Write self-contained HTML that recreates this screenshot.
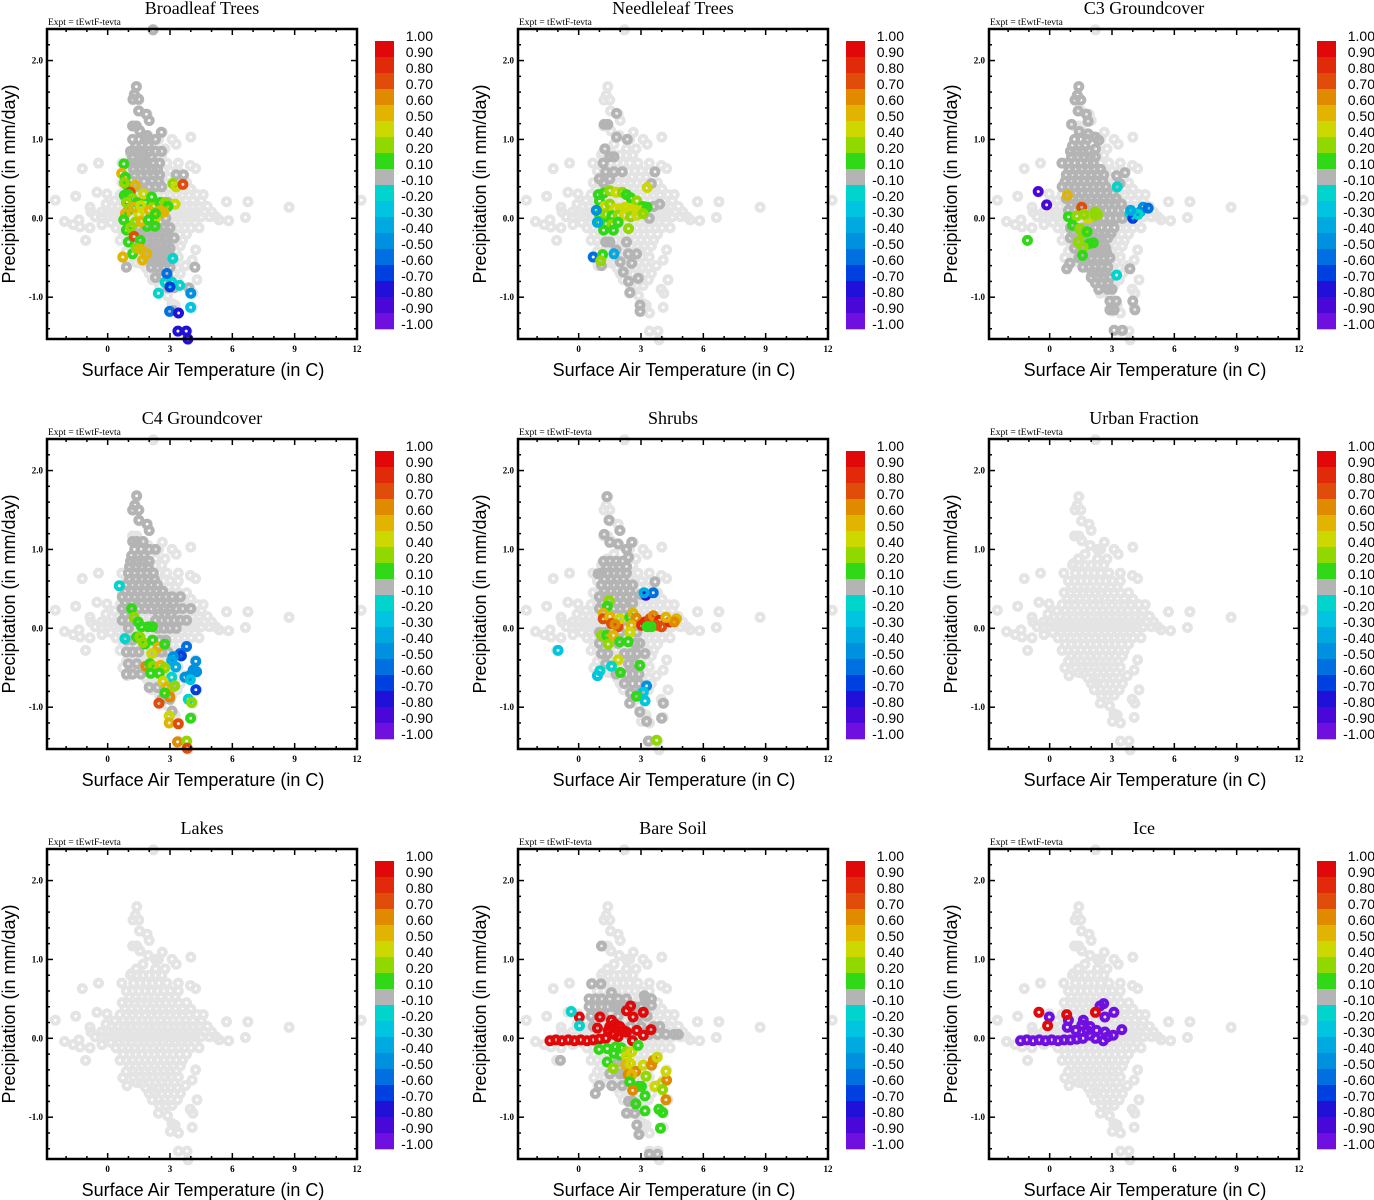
<!DOCTYPE html>
<html><head><meta charset="utf-8"><style>
html,body{margin:0;padding:0;background:#fff;}
svg{display:block;}
</style></head><body>
<svg id="chart" xmlns="http://www.w3.org/2000/svg" width="1374" height="1200" viewBox="0 0 1374 1200"></svg>
<script>
// ---- data ----
const panelTitles = ["Broadleaf Trees","Needleleaf Trees","C3 Groundcover","C4 Groundcover","Shrubs","Urban Fraction","Lakes","Bare Soil","Ice"];
const xTickValues = [0,3,6,9,12];
const yTickValues = [2,1,0,-1];
const yTickLabels = ["2.0","1.0","0.0","-1.0"];
const colorBounds = [1.0,0.9,0.8,0.7,0.6,0.5,0.4,0.2,0.1,-0.1,-0.2,-0.3,-0.4,-0.5,-0.6,-0.7,-0.8,-0.9,-1.0];
const colorLabels = ["1.00","0.90","0.80","0.70","0.60","0.50","0.40","0.20","0.10","-0.10","-0.20","-0.30","-0.40","-0.50","-0.60","-0.70","-0.80","-0.90","-1.00"];
const binColors = ["#e00808","#e02a0a","#e04c0a","#e08a00","#e0b400","#ccd800","#90d800","#30d818","#b4b4b4","#00d4cc","#00c4e0","#00aae0","#0090e0","#0070e0","#0040e0","#2010d8","#4a08d8","#7010e0"];

// base cloud (all grid cells), rows: [precip, temp, temp, ...]
const baseRows = [
[1.67,1.4],[1.56,1.33],[1.5,1.22,1.5],[1.36,1.53],[1.32,1.9],[1.24,2.0],[1.17,1.2,1.4],[1.11,1.55],[1.05,1.95],[1.09,2.63],[1.0,2.3,2.45,3.1],[0.94,3.3,1.7],[1.03,4.0],[0.88,1.38,2.3,2.76],[0.82,1.14],[0.7,-0.44,0.68,3.4],[0.63,-1.22,4.23],[0.67,3.98],[0.33,-0.52],[0.31,-0.03],[0.28,-1.54],[0.18,-0.08],[0.23,-2.52,12.2],[0.14,-0.85,8.73],[0.08,-0.8],[-0.04,-2.08],[-0.08,-1.66,-0.28],[-0.02,-1.38,5.37],[-0.11,-1.33],[-0.12,-0.85],[-0.28,-1.06],[0.21,5.72,6.75],[0.01,6.63],[-0.03,5.82],[-0.5,0.73],[-0.6,0.93,3.74],[-0.57,1.63],[-0.68,2.24],[-0.95,2.44,4.1],[-0.98,2.88],[-1.08,3.09],[-1.1,3.25],[-1.18,3.02],[-1.2,3.41],[-1.13,4.07],[-0.9,3.97],[-0.78,4.3],[-0.4,4.23],[-0.53,4.07],[-1.43,3.41,3.82],[-1.54,3.87],[2.39,2.2],
[0.8,1.1,1.4,1.7,2.0,2.3,2.6],
[0.7,1.25,1.55,1.85,2.15,2.45,2.85],
[0.6,0.9,1.2,1.5,1.8,2.1,2.4,2.7,3.0,3.4],
[0.52,1.05,1.35,1.65,1.95,2.25,2.55,2.95,3.25],
[0.45,0.7,1.0,1.3,1.6,1.9,2.2,2.5,2.8,3.1,3.4,3.8],
[0.37,0.85,1.15,1.45,1.75,2.05,2.35,2.65,2.95,3.25,3.6,4.0],
[0.3,0.6,0.9,1.2,1.5,1.8,2.1,2.4,2.7,3.0,3.3,3.6,3.9,4.3,4.6],
[0.22,0.35,0.75,1.05,1.35,1.65,1.95,2.25,2.55,2.85,3.15,3.45,3.75,4.1,4.5],
[0.15,0.2,0.5,0.8,1.1,1.4,1.7,2.0,2.3,2.6,2.9,3.2,3.5,3.8,4.1,4.4,4.8],
[0.08,-0.3,0.05,0.35,0.65,0.95,1.25,1.55,1.85,2.15,2.45,2.75,3.05,3.35,3.65,3.95,4.3,4.65,5.0],
[0.02,-0.6,-0.3,0,0.3,0.6,0.9,1.2,1.5,1.8,2.1,2.4,2.7,3.0,3.3,3.6,3.9,4.2,4.5,4.9,5.2],
[-0.05,0.15,0.55,0.85,1.15,1.45,1.75,2.05,2.35,2.65,2.95,3.25,3.55,3.85,4.2],
[-0.12,0.4,0.7,1.0,1.3,1.6,1.9,2.2,2.5,2.8,3.1,3.4,3.7,4.0,4.4],
[-0.2,0.75,1.05,1.35,1.65,1.95,2.25,2.55,2.85,3.15,3.45,3.8],
[-0.28,0.6,0.9,1.2,1.5,1.8,2.1,2.4,2.7,3.0,3.3,3.6],
[-0.35,1.05,1.35,1.65,1.95,2.25,2.55,2.85,3.15,3.5],
[-0.42,0.9,1.2,1.5,1.8,2.1,2.4,2.7,3.0,3.3],
[-0.49,1.25,1.55,1.85,2.15,2.45,2.75,3.05,3.4],
[-0.56,1.4,1.7,2.0,2.3,2.6,2.9,3.2],
[-0.63,1.85,2.15,2.45,2.75,3.05,3.35],
[-0.7,2.0,2.3,2.6,2.9,3.2,3.5],
[-0.78,2.15,2.45,2.75,3.05,3.35],
[-0.85,2.5,2.8,3.1]
];

// near-zero correlation points (dark gray) per panel, rows: [precip, temp...]
const darkRows1 = [[2.39,2.18],[1.67,1.38],[1.57,1.28],[1.51,1.22,1.49],[1.36,1.49],[1.32,1.86],[1.24,2.0],[1.17,1.2,1.38],[1.11,1.54],[1.05,1.89],[1.09,2.58],
[1.0,1.2,1.5,1.8,2.3],[0.92,1.35,1.65,1.95],[0.85,1.1,1.3,1.5,1.7,2.0,2.3,2.6],[0.78,1.2,1.6,1.8,2.1],[0.7,1.1,1.3,1.5,1.7,1.9,2.2,2.5],[0.62,1.25,1.55,1.85,2.15,2.4],[0.55,1.3,1.6,1.9,2.2,2.5,3.3,3.65],[0.47,1.75,2.15,2.45],[0.4,1.5,2.0,2.3,2.6],[0.2,2.6,2.9],[0.0,2.8],
[-0.12,1.5,1.8,2.1,2.4,2.7,3.0],[-0.18,1.65,1.95,2.25,2.55,2.85],[-0.25,1.6,1.9,2.2,2.5,2.8,3.2],[-0.32,1.95,2.25,2.55,2.85],[-0.38,1.8,2.1,2.4,2.7,3.0],[-0.44,2.05,2.35,2.65,2.95],[-0.5,1.9,2.2,2.5,2.8,3.1],[-0.56,2.25,2.55,2.85],[-0.62,0.9,2.1,2.4,2.7,3.0,4.2],[-0.75,2.3,2.6,2.9],[-0.88,2.9,3.2,3.9],[-1.17,3.15]];
const darkRows2 = [[1.33,1.82],[1.19,1.23,1.4],[1.03,1.82],[1.0,2.34],[0.88,1.26],[0.78,1.5,1.7],[0.7,1.18],[0.59,1.3,1.7,2.1,3.67],[0.5,1.0,1.5],[0.45,1.2],[0.44,3.5],[0.18,3.9],[0.15,3.6],[0.0,3.4],
[-0.3,1.3,1.5,2.3],[-0.4,1.8],[-0.45,2.39,2.79],[-0.55,2.0],[-0.57,2.55],[-0.6,1.1],[-0.68,2.15],[-0.76,2.87],[-0.8,2.4],[-0.94,2.47],[-1.1,2.95],[-1.18,2.95]];
const darkRows3 = [[1.67,1.4],[1.56,1.33],[1.5,1.22,1.5],[1.36,1.37],[1.32,1.77],[1.23,1.85],[1.19,1.05],[1.1,1.42],[1.07,1.85],[1.03,2.2],[0.99,2.36],[0.88,2.2],[0.78,2.2],[0.7,0.59,1.85],[0.54,3.22],[0.58,3.62],[0.44,3.38],
[1.0,1.2,1.5,1.8],[0.92,1.1,1.4,1.7],[0.85,1.0,1.3,1.6,1.9],[0.78,1.05,1.35,1.65,1.95],[0.7,0.9,1.2,1.5,1.8,2.1],[0.62,0.95,1.25,1.55,1.85,2.15,2.45],[0.55,0.8,1.1,1.4,1.7,2.0,2.3,2.6],[0.47,0.75,1.05,1.35,1.65,1.95,2.25,2.55],[0.4,0.6,0.9,1.2,1.5,1.8,2.1,2.4,2.7],[0.32,0.95,1.25,1.55,1.85,2.15,2.45,2.75,3.05],[0.25,0.8,1.1,1.4,1.7,2.0,2.3,2.6,2.9,3.2],[0.18,1.05,1.35,1.65,1.95,2.25,2.55,2.85,3.15,3.45],[0.1,0.9,1.2,1.5,1.8,2.1,2.4,2.7,3.0,3.3,3.6],[0.0,2.0,2.3,2.6,2.9,3.2,3.5],
[-0.12,1.0,1.3,1.6,1.9,2.2,2.5,2.8,3.1],[-0.19,1.15,1.45,1.75,2.05,2.35,2.65,2.95],[-0.25,1.0,1.3,1.6,1.9,2.2,2.5,2.8],[-0.32,1.35,1.65,1.95,2.25,2.55],[-0.38,1.2,1.5,1.8,2.1,2.4,2.7],[-0.44,1.55,1.85,2.15,2.45,2.75],[-0.5,1.4,1.7,2.0,2.3,2.6,2.9],[-0.57,0.97],[-0.64,0.82,3.86],[-0.62,1.6,1.9,2.2,2.5,2.8],[-0.68,2.05,2.35,2.65],[-0.75,2.0,2.3,2.6,2.9],[-0.82,2.2,2.5,2.8],[-0.9,2.36,2.8,3.0],[-1.05,2.9,3.2,4.0],[-1.16,2.9,3.1,4.1],[-1.42,3.1,3.5]];
const darkRows4 = [[1.68,1.39],[1.56,1.3],[1.5,1.2,1.5],[1.37,1.5],[1.32,1.9],[1.24,2.0],[1.1,1.2,1.4,1.7],[1.0,1.3,1.6,2.0,2.3],[0.92,1.15,1.45,1.75],[0.85,1.1,1.4,1.7,2.0],[0.78,1.05,1.35,1.65,1.95],[0.7,1.0,1.3,1.6,1.9,2.2],[0.62,1.05,1.35,1.65,1.95,2.25],[0.55,0.9,1.2,1.5,1.8,2.1,2.4],[0.47,0.85,1.15,1.45,1.75,2.05,2.35,2.65],[0.4,0.7,1.0,1.3,1.6,1.9,2.2,2.5,2.8,3.1,3.5],[0.32,0.85,1.15,1.65,1.95,2.25,2.55,2.85,3.15],[0.25,0.7,1.0,1.5,1.8,2.1,2.4,2.7,3.0,3.3,3.6,4.0],[0.18,0.85,2.45,2.75,3.05],[0.1,0.7,1.0,1.3,2.3,2.6,2.9,3.2,3.5,3.8],[0.0,1.0,2.4,2.7,3.0,3.3],[-0.15,0.9,1.2,2.5,2.8],[-0.3,0.9,1.2,1.5,2.3,2.6,2.9],[-0.45,1.0,1.4],[-0.58,0.9,1.2,1.6],[-0.75,2.0,2.4,3.1],[-0.9,2.6,3.0],[-1.05,3.1]];
const darkRows5 = [[1.67,1.36],[1.37,1.46],[1.24,1.98],[1.19,1.23],[1.09,1.5,2.55],[1.07,1.9],[1.0,2.3],[0.9,2.4],[0.78,2.3],[0.69,0.93],[0.59,3.67],[0.43,3.0],
[0.85,1.2,1.5,1.8,2.1],[0.78,1.35,1.65,1.95],[0.7,1.1,1.4,1.7,2.0,2.3],[0.62,1.25,1.55,1.85,2.15],[0.55,1.1,1.4,1.7,2.0,2.3,2.6],[0.47,1.25,1.55,1.85,2.15,2.45],[0.4,1.0,1.3,1.7,2.0,2.3,2.6],[0.32,1.15,1.85,2.15,2.6],[0.25,1.0,1.7,2.0,2.3],[0.1,2.2],[-0.05,1.0,1.3,2.0,2.8],[-0.19,1.0,1.9,2.7,2.94],[-0.32,1.1,1.4,2.2,2.5,2.8,3.19],[-0.45,1.3,2.4,2.7],[-0.58,1.8,2.3,2.6,2.9],[-0.7,2.2,2.6,2.9],[-0.82,2.5,2.9],[-0.95,2.46,4.07],[-1.06,2.94],[-1.14,3.99],[-1.18,3.27],[-1.43,3.35]];
const darkRows6 = [];
const darkRows7 = [];
const darkRows8 = [[1.17,1.1],[0.69,0.62,1.07],[0.58,1.58],[0.54,3.16],[0.42,1.82,3.5],[0.5,0.5,0.8,1.1,1.5,1.9,2.3,3.2,3.5],[0.4,0.5,0.8,1.1,1.4,1.7,2.0,2.7,3.0],[0.28,0.6,1.2,1.9,2.9,3.3],[0.15,0.7,2.5,3.0,3.6,3.9],[0.05,2.4,3.4,3.8,4.2,4.6,4.8],[-0.28,-0.88],[-0.3,1.9,2.1],[-0.45,1.5,2.0,2.2],[-0.6,1.0,1.6,2.1],[-0.7,0.8],[-0.8,2.4,2.6],[-0.95,2.3,2.7],[-1.1,2.8],[-1.22,2.9],[-1.47,3.4,3.8]];
const darkRows9 = [];

// colored points per panel: [temp, precip, correlation]
const colored1 = [[0.78,0.69,0.1],[0.67,0.57,0.5],[0.85,0.52,0.1],[0.93,0.42,0.1],[0.8,0.45,0.2],[1.33,0.42,0.5],[1.09,0.33,0.7],[0.93,0.21,0.7],[0.8,0.29,0.1],[1.0,0.3,0.1],[1.2,0.25,0.2],[1.4,0.2,0.1],[1.8,0.2,0.1],[2.2,0.15,0.2],[2.4,0.05,0.1],[1.0,0.1,0.1],[1.1,-0.1,0.1],[0.9,0.2,0.2],[1.5,0.05,0.4],[1.9,-0.1,0.1],[2.3,0.0,0.4],[0.9,-0.15,0.1],[1.0,-0.3,0.1],[1.2,-0.45,0.1],
[1.73,0.31,0.4],[2.12,0.27,0.1],[2.53,0.2,0.1],[2.77,0.2,0.2],[3.25,0.18,0.4],[2.9,0.15,0.1],[1.25,0.14,0.5],[1.6,0.16,0.4],[2.0,0.1,0.5],[2.53,0.1,0.5],[2.7,0.08,0.5],[2.3,0.06,0.1],[0.85,0.06,0.5],[0.77,-0.02,0.1],[1.33,-0.05,0.2],[1.6,-0.04,0.5],[1.97,-0.02,0.1],[2.28,-0.1,0.1],[1.1,-0.12,0.2],
[1.27,-0.23,0.7],[1.56,-0.28,0.1],[1.37,-0.38,0.2],[1.56,-0.39,0.5],[1.88,-0.45,0.5],[1.68,-0.53,0.5],[0.73,-0.49,0.5],[3.14,0.44,0.2],[3.3,0.4,0.4],[3.62,0.43,0.7],
[3.14,-0.51,-0.2],[2.77,-0.81,-0.2],[3.09,-0.81,-0.2],[3.46,-0.85,-0.2],[3.0,-0.87,-0.7],[2.44,-0.95,-0.2],[4.0,-0.95,-0.5],[3.99,-1.13,-0.3],[2.98,-1.18,-0.6],[3.41,-1.2,-0.8],[3.38,-1.43,-0.8],[3.78,-1.43,-0.8],[3.86,-1.53,-0.8],[2.85,-0.7,-0.6]];
const colored2 = [[0.95,0.3,0.1],[1.2,0.32,0.1],[1.5,0.35,0.2],[1.8,0.33,0.4],[2.1,0.33,0.2],[2.3,0.3,0.1],[2.5,0.26,0.1],[2.8,0.22,0.2],[3.1,0.15,0.1],[1.0,0.22,0.1],[1.25,0.15,0.4],[1.5,0.18,0.2],[1.75,0.12,0.4],[2.0,0.12,0.4],[2.25,0.14,0.4],[2.5,0.12,0.4],[2.75,0.1,0.4],[3.0,0.1,0.4],[3.3,0.14,0.1],[1.0,0.05,0.1],[1.3,0.05,0.2],[1.6,0.03,0.1],[1.9,0.04,0.2],[2.2,0.04,0.4],[2.5,0.02,0.2],[2.8,0.04,0.4],[3.1,0.06,0.2],[1.0,-0.05,0.1],[1.3,-0.07,0.1],[1.6,-0.08,0.2],[1.9,-0.05,0.1],[1.2,-0.15,0.1],[1.67,-0.15,0.1],[2.4,-0.13,0.2],[3.3,0.39,0.4],[0.7,-0.49,-0.6],[1.15,-0.46,0.1],[1.06,-0.54,0.2],[0.85,0.1,-0.5],[0.9,-0.05,-0.4],[1.7,-0.45,-0.4]];
const colored3 = [[-0.55,0.34,-0.9],[-0.15,0.17,-0.9],[-1.07,-0.28,0.1],[0.85,0.29,0.5],[1.54,0.14,0.7],[0.9,0.02,0.1],[1.3,0.03,0.2],[1.85,0.0,0.4],[2.2,0.04,0.2],[2.2,0.08,0.2],[1.1,-0.09,0.1],[1.45,-0.13,0.2],[1.61,-0.19,0.2],[1.8,-0.17,0.1],[1.38,-0.3,0.2],[1.9,-0.32,0.1],[2.1,-0.31,0.1],[1.61,-0.37,0.2],[1.58,-0.47,0.1],[1.65,0.05,0.2],[2.3,0.05,0.2],
[3.25,0.4,-0.2],[3.86,0.06,-0.2],[4.1,0.04,-0.3],[4.35,0.08,-0.4],[4.5,0.14,-0.5],[4.74,0.13,-0.6],[4.0,0.0,-0.7],[4.25,0.05,-0.2],[3.9,0.1,-0.4],[3.22,-0.72,-0.2]];
const colored4 = [[0.56,0.54,-0.2],[1.15,0.25,0.1],[1.27,0.14,0.2],[1.47,0.08,0.1],[1.63,0.02,0.1],[1.95,0.02,0.1],[2.16,0.02,0.1],[0.83,-0.13,-0.2],[1.39,-0.11,0.1],[1.55,-0.11,0.2],[1.79,-0.2,0.1],[1.7,-0.18,0.2],[2.16,-0.15,0.1],[2.43,-0.24,0.5],[2.75,-0.2,0.1],[2.12,-0.32,0.4],[3.48,-0.32,-0.6],[3.55,-0.35,-0.7],[3.8,-0.23,-0.6],[3.16,-0.36,-0.5],[3.08,-0.41,-0.4],[4.24,-0.42,-0.5],[1.84,-0.48,0.6],[2.03,-0.45,0.1],[2.19,-0.48,0.2],[2.55,-0.47,0.5],[2.75,-0.5,0.2],[2.07,-0.57,0.1],[2.48,-0.57,0.1],[3.28,-0.49,-0.4],[3.08,-0.62,-0.2],[3.72,-0.62,-0.5],[3.96,-0.6,-0.5],[4.12,-0.53,-0.5],[4.28,-0.55,-0.5],[3.98,-0.65,-0.3],[2.67,-0.67,0.4],[2.83,-0.75,0.5],[3.23,-0.73,0.2],[2.99,-0.87,0.6],[2.75,-0.82,0.1],[4.24,-0.78,-0.7],[3.88,-0.9,-0.2],[4.04,-0.94,0.2],[2.47,-0.95,0.7],[2.96,-1.11,0.4],[2.96,-1.2,0.5],[3.4,-1.21,0.7],[3.99,-1.14,0.1],[3.36,-1.44,0.6],[3.8,-1.43,0.2],[3.83,-1.52,0.7]];
const colored5 = [[1.47,0.35,0.2],[1.38,0.28,0.1],[1.18,0.19,0.5],[1.18,0.12,0.7],[1.5,0.15,0.5],[1.58,0.06,0.7],[1.9,0.02,0.7],[1.98,0.12,0.4],[1.75,0.05,0.6],[2.46,0.14,0.1],[2.62,0.19,0.5],[2.78,0.13,0.6],[2.54,0.04,0.5],[2.46,-0.05,0.4],[3.03,0.04,0.8],[3.19,0.08,0.8],[3.43,0.12,0.7],[3.59,0.16,0.6],[3.88,0.1,0.8],[3.75,0.04,0.7],[3.5,0.02,0.1],[3.99,0.02,0.7],[4.39,0.08,0.8],[4.71,0.12,0.5],[4.6,0.08,0.6],[4.2,0.14,0.5],[3.3,0.02,0.1],[1.1,-0.09,0.2],[1.35,-0.09,0.1],[1.66,-0.09,0.5],[1.42,-0.2,0.2],[1.98,-0.17,0.1],[2.38,-0.17,0.1],[1.9,-0.4,0.4],[1.58,-0.48,-0.2],[1.02,-0.54,-0.2],[0.9,-0.6,-0.3],[2.01,-0.56,0.1],[2.94,-0.47,0.1],[-0.99,-0.28,-0.3],[3.27,-0.73,-0.5],[3.11,-0.81,-0.3],[3.19,-0.92,-0.3],[2.78,-0.86,0.1],[3.23,0.42,-0.8],[3.59,0.45,-0.6],[3.15,0.45,-0.4],[3.75,-1.42,0.3]];
const colored6 = [];
const colored7 = [];
const colored8 = [[-1.38,-0.03,0.95],[-1.1,-0.02,0.95],[-0.8,-0.03,0.95],[-0.5,-0.02,0.95],[-0.2,-0.03,0.95],[0.1,-0.02,0.95],[0.4,-0.03,0.95],[0.7,-0.02,0.95],[1.0,-0.01,0.95],[1.3,0.0,0.95],[1.02,0.27,0.95],[0.9,0.13,0.95],[0.03,0.27,0.95],[1.58,0.23,0.95],[1.75,0.18,0.95],[1.42,0.1,0.95],[1.98,0.15,0.95],[2.15,0.1,0.95],[2.3,0.35,0.95],[2.5,0.41,0.95],[2.62,0.27,0.95],[3.11,0.33,0.95],[3.48,0.11,0.95],[3.11,0.04,0.95],[2.59,-0.03,0.95],[1.7,0.05,0.95],[1.9,0.02,0.95],[2.3,0.08,0.95],[2.8,0.1,0.95],[1.5,0.15,0.95],
[-0.36,0.34,-0.2],[0.04,0.16,-0.2],
[0.98,-0.14,0.1],[1.38,-0.13,0.1],[1.78,-0.11,0.1],[2.05,-0.12,0.1],[1.7,-0.19,0.1],[2.0,-0.21,0.1],[2.3,-0.17,0.2],[2.55,-0.17,0.4],[2.86,-0.09,0.1],[1.38,-0.3,0.1],[1.66,-0.38,0.2],[2.3,-0.23,0.4],[2.27,-0.34,0.5],[2.5,-0.32,0.4],[2.38,-0.46,0.6],[2.75,-0.42,0.6],[3.11,-0.34,0.4],[3.24,-0.48,0.2],[3.51,-0.34,0.6],[3.59,-0.28,0.6],[3.78,-0.24,0.4],[2.55,-0.46,0.5],[2.46,-0.55,0.1],[2.86,-0.61,0.1],[3.02,-0.61,0.1],[3.67,-0.61,0.4],[3.99,-0.57,0.4],[4.23,-0.53,0.6],[4.2,-0.42,0.4],[4.04,-0.65,0.2],[2.6,-0.66,0.6],[3.19,-0.73,0.1],[2.75,-0.83,0.1],[3.19,-0.92,0.1],[3.86,-0.9,0.1],[4.04,-0.94,0.1],[4.2,-0.78,0.6],[3.94,-1.14,0.1]];
const colored9 = [[-1.4,-0.03,-0.95],[-1.1,-0.02,-0.95],[-0.8,-0.03,-0.95],[-0.5,-0.02,-0.95],[-0.2,-0.03,-0.95],[0.1,-0.02,-0.95],[0.4,-0.03,-0.95],[0.7,-0.02,-0.95],[1.0,-0.02,-0.95],[1.3,-0.01,-0.95],[1.6,0.0,-0.95],[1.94,0.04,-0.95],[2.2,0.0,-0.95],[2.58,-0.03,-0.95],[1.62,0.23,-0.95],[1.55,0.17,-0.95],[1.26,0.1,-0.95],[1.94,0.15,-0.95],[2.26,0.1,-0.95],[2.66,0.08,-0.95],[3.06,0.04,-0.95],[3.47,0.11,-0.95],[2.8,0.02,-0.95],[2.42,0.41,-0.95],[2.6,0.44,-0.95],[2.66,0.27,-0.95],[3.09,0.33,-0.95],[0.9,0.23,-0.95],[0.85,0.14,-0.95],[-0.02,0.27,-0.95],[1.8,0.1,-0.95],
[-0.52,0.33,0.95],[-0.1,0.16,0.95],[0.82,0.3,0.95],[2.2,0.33,0.95]];

const darkSets = [darkRows1,darkRows2,darkRows3,darkRows4,darkRows5,darkRows6,darkRows7,darkRows8,darkRows9];
const coloredSets = [colored1,colored2,colored3,colored4,colored5,colored6,colored7,colored8,colored9];

// ---- drawing ----
const NS = "http://www.w3.org/2000/svg";
const svg = document.getElementById("chart");
function mk(tag, attrs, parent){const e=document.createElementNS(NS,tag);for(const k in attrs)e.setAttribute(k,attrs[k]);(parent||svg).appendChild(e);return e;}
function colorFor(v){
  for(let k=0;k<binColors.length;k++){ if(v<=colorBounds[k] && v>=colorBounds[k+1]) return binColors[k]; }
  return v>0?binColors[0]:binColors[binColors.length-1];
}
const T0=-2.92, T1=12, P0=-1.53, P1=2.4;
const L=47, R=357, TOP=29, BOT=339;

for(let i=0;i<9;i++){
  const ox=(i%3)*471, oy=Math.floor(i/3)*410;
  const X=t=>ox+L+(t-T0)/(T1-T0)*(R-L);
  const Y=p=>oy+BOT-(p-P0)/(P1-P0)*(BOT-TOP);
  const g=mk("g",{});
  
  

  const title=mk("text",{x:ox+202,y:oy+14,"text-anchor":"middle","font-family":"Liberation Serif, serif","font-size":"18"},g);
  title.textContent=panelTitles[i];
  
  

  const ex=mk("text",{x:ox+48,y:oy+25,"font-family":"Liberation Serif, serif","font-size":"9.5"},g);
  ex.textContent="Expt = tEwtF-tevta";
  
  

  // points
  const pts=mk("g",{},g);
  
  
  const dot=(t,p,col)=>{const c=mk("circle",{cx:X(t).toFixed(1),cy:Y(p).toFixed(1),r:3.5,fill:"none",stroke:col,"stroke-width":4},pts);
    
    };
  baseRows.forEach(r=>{for(let k=1;k<r.length;k++)dot(r[k],r[0],"#e4e4e4");});
  darkSets[i].forEach(r=>{for(let k=1;k<r.length;k++)dot(r[k],r[0],"#b4b4b4");});
  coloredSets[i].forEach(d=>dot(d[0],d[1],colorFor(d[2])));

  // frame
  const fr=mk("rect",{x:ox+L,y:oy+TOP,width:R-L,height:BOT-TOP,fill:"none",stroke:"#000","stroke-width":2.5},g);
  
  

  // ticks
  for(let t=-2;t<=11;t++){
    const major=xTickValues.includes(t), len=major?6:3;
    mk("line",{x1:X(t),x2:X(t),y1:oy+BOT,y2:oy+BOT-len,stroke:"#000","stroke-width":1.5},g);
    mk("line",{x1:X(t),x2:X(t),y1:oy+TOP,y2:oy+TOP+len,stroke:"#000","stroke-width":1.5},g);
  }
  xTickValues.forEach(v=>{const tx=mk("text",{x:X(v),y:oy+352,"text-anchor":"middle","font-family":"Liberation Serif, serif","font-size":"9","font-weight":"bold"},g);tx.textContent=String(v);
    
    });
  for(let k=-7;k<=11;k++){
    const p=k*0.2, major=Math.abs(p-Math.round(p))<1e-6, len=major?6:3;
    mk("line",{x1:ox+L,x2:ox+L+len,y1:Y(p),y2:Y(p),stroke:"#000","stroke-width":1.5},g);
    mk("line",{x1:ox+R,x2:ox+R-len,y1:Y(p),y2:Y(p),stroke:"#000","stroke-width":1.5},g);
  }
  yTickValues.forEach((v,j)=>{const ty=mk("text",{x:ox+43,y:Y(v)+3,"text-anchor":"end","font-family":"Liberation Serif, serif","font-size":"9","font-weight":"bold"},g);ty.textContent=yTickLabels[j];
    
    });

  const xt=mk("text",{x:ox+203,y:oy+376,"text-anchor":"middle","font-family":"Liberation Sans, sans-serif","font-size":"18"},g);
  xt.textContent="Surface Air Temperature (in C)";
  
  
  const yt=mk("text",{x:0,y:0,"text-anchor":"middle","font-family":"Liberation Sans, sans-serif","font-size":"18",transform:`translate(${ox+15},${oy+184}) rotate(-90)`},g);
  yt.textContent="Precipitation (in mm/day)";
  
  

  // colorbar
  const cb=mk("g",{},g);
  
  
  binColors.forEach((c,k)=>{const r=mk("rect",{x:ox+375,y:oy+41+16*k,width:19,height:16.3,fill:c},cb);
    
    });
  colorLabels.forEach((s,k)=>{const t=mk("text",{x:ox+433,y:oy+41+16*k,"text-anchor":"end","font-family":"Liberation Sans, sans-serif","font-size":"14"},cb);t.textContent=s;
    
    });
}
</script>
</body></html>
